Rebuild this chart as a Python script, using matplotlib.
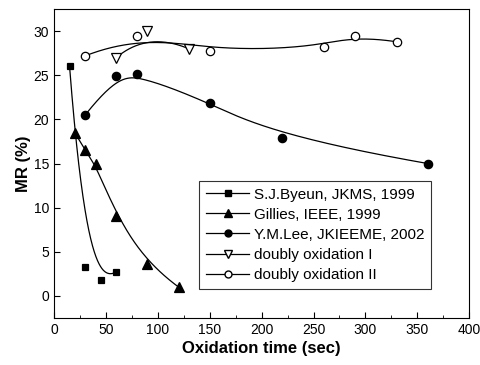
import numpy as np
import matplotlib
matplotlib.use("Agg")
import matplotlib.pyplot as plt

plt.rcParams["font.family"] = ["Liberation Sans", "DejaVu Sans"]

# datos
byeun_x = [15, 30, 45, 60]
byeun_y = [26.0, 3.3, 1.8, 2.7]

gillies_x = [20, 30, 40, 60, 90, 120]
gillies_y = [18.5, 16.5, 15.0, 9.0, 3.6, 1.0]

lee_x = [30, 60, 80, 150, 220, 360]
lee_y = [20.5, 24.9, 25.1, 21.9, 17.9, 15.0]

dox1_x = [60, 90, 130]
dox1_y = [27.0, 30.0, 28.0]

dox2_x = [30, 80, 150, 260, 290, 330]
dox2_y = [27.2, 29.5, 27.7, 28.2, 29.5, 28.8]


def bspline(xs, ys, n=200):
    # curva B-spline abierta (como en Origin), puntos = control
    P = np.column_stack([xs, ys]).astype(float)
    m = len(P) - 1
    k = min(3, m)
    knots = np.concatenate([np.zeros(k), np.linspace(0, 1, m - k + 2), np.ones(k)])
    t = np.linspace(0, 1, n)
    t[-1] = 1 - 1e-9
    # Cox-de Boor
    N = np.zeros((n, len(knots) - 1))
    for i in range(len(knots) - 1):
        N[:, i] = (t >= knots[i]) & (t < knots[i + 1])
    for d in range(1, k + 1):
        Nn = np.zeros((n, len(knots) - 1 - d))
        for i in range(len(knots) - 1 - d):
            a = knots[i + d] - knots[i]
            b = knots[i + d + 1] - knots[i + 1]
            term = 0
            if a > 0:
                term = term + (t - knots[i]) / a * N[:, i]
            if b > 0:
                term = term + (knots[i + d + 1] - t) / b * N[:, i + 1]
            Nn[:, i] = term
        N = Nn
    C = N @ P
    return C[:, 0], C[:, 1]


fig = plt.figure(figsize=(4.8, 3.65), dpi=100)
ax = fig.add_axes([0.1125, 0.129, 0.865, 0.846])

series = [
    (byeun_x, byeun_y, "s", "k", "S.J.Byeun, JKMS, 1999", 5),
    (gillies_x, gillies_y, "^", "k", "Gillies, IEEE, 1999", 6.5),
    (lee_x, lee_y, "o", "k", "Y.M.Lee, JKIEEME, 2002", 6),
    (dox1_x, dox1_y, "v", "white", "doubly oxidation I", 7),
    (dox2_x, dox2_y, "o", "white", "doubly oxidation II", 6),
]

for xs, ys, mk, fc, lab, ms in series:
    cx, cy = bspline(xs, ys)
    ax.plot(cx, cy, color="k", lw=0.9)
    ax.plot(xs, ys, ls="none", marker=mk, mfc=fc, mec="k", mew=0.9, ms=ms)
    ax.plot([], [], color="k", lw=0.9, marker=mk, mfc=fc, mec="k", ms=ms - 1, label=lab)

ax.set_xlim(0, 400)
ax.set_ylim(-2.5, 32.5)
ax.set_xticks(range(0, 401, 50))
ax.set_yticks(range(0, 31, 5))
ax.set_xticks(range(0, 401, 25), minor=True)
ax.tick_params(direction="in", labelsize=10, length=4)
ax.tick_params(which="minor", direction="in", length=2)
ax.tick_params(axis="y", which="minor", left=False)

ax.set_xlabel("Oxidation time (sec)", fontsize=12, fontweight="bold", labelpad=3)
ax.set_ylabel("MR (%)", fontsize=12, fontweight="bold", labelpad=2)

leg = ax.legend(loc="lower left", bbox_to_anchor=(0.35, 0.094), fontsize=11,
                frameon=True, fancybox=False, edgecolor="k", handlelength=2.8,
                handletextpad=0.3, borderpad=0.45, labelspacing=0.4,
                borderaxespad=0)
leg.get_frame().set_linewidth(0.8)

plt.savefig("out.png", dpi=100)
